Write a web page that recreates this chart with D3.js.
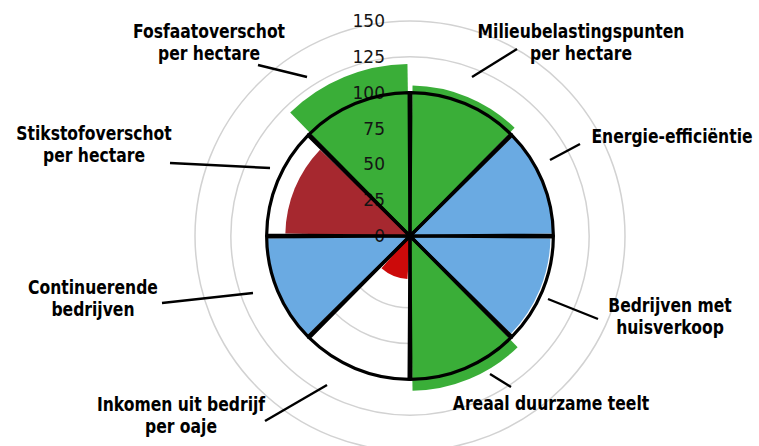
<!DOCTYPE html>
<html>
<head>
<meta charset="utf-8">
<script src="https://cdn.jsdelivr.net/npm/d3@7"></script>
<style>
  html, body { margin: 0; padding: 0; background: #ffffff; }
  svg { display: block; }
</style>
</head>
<body>
<svg id="chart" width="759" height="446"></svg>
<script>
// ---- data ----
const categories = [
  "Milieubelastingspunten per hectare",
  "Energie-efficiëntie",
  "Bedrijven met huisverkoop",
  "Areaal duurzame teelt",
  "Inkomen uit bedrijf per oaje",
  "Continuerende bedrijven",
  "Stikstofoverschot per hectare",
  "Fosfaatoverschot per hectare"
];
const labelLines = [
  ["Milieubelastingspunten", "per hectare"],
  ["Energie-efficiëntie"],
  ["Bedrijven met", "huisverkoop"],
  ["Areaal duurzame teelt"],
  ["Inkomen uit bedrijf", "per oaje"],
  ["Continuerende", "bedrijven"],
  ["Stikstofoverschot", "per hectare"],
  ["Fosfaatoverschot", "per hectare"]
];
const values = [105, 100, 98, 108, 30, 100, 87, 120];
const referenceValue = 100;
const colorGroup = ["green", "blue", "blue", "green", "red", "blue", "darkred", "green"];
const radialTicks = [0, 25, 50, 75, 100, 125, 150];

// ---- style / layout ----
const palette = { green: "#3aae38", blue: "#6aaae2", red: "#cc0a0a", darkred: "#a6282f" };
const cx = 410, cy = 236;
const r = d3.scaleLinear().domain([0, 150]).range([0, 215]);
const angle = d3.scaleBand().domain(d3.range(categories.length)).range([0, 2 * Math.PI]);

// label anchor (center x, first baseline) and leader line ends
const labelLayout = [
  { x: 581, y: 38,  line: [[472, 77], [517, 49]] },
  { x: 672, y: 143, line: [[550, 160], [580, 144]] },
  { x: 670, y: 312, line: [[548, 299], [598, 319]] },
  { x: 551, y: 410, line: [[490, 374], [511, 387]] },
  { x: 181, y: 411, line: [[327, 385], [265, 421]] },
  { x: 93,  y: 294, line: [[253, 293], [162, 303]] },
  { x: 94,  y: 140, line: [[270, 168], [170, 163]] },
  { x: 209, y: 38,  line: [[307, 77], [258, 65]] }
];
const lineGap = 22;

const svg = d3.select("#chart");
const g = svg.append("g").attr("transform", `translate(${cx},${cy})`);

// grid circles
g.append("g").selectAll("circle")
  .data(radialTicks.filter(d => d > 0))
  .join("circle")
  .attr("r", d => r(d))
  .attr("fill", "none")
  .attr("stroke", "#d2d2d2")
  .attr("stroke-width", 1.5);

// value wedges
const fillArc = d3.arc()
  .innerRadius(0)
  .outerRadius(d => r(d.v))
  .startAngle(d => angle(d.i))
  .endAngle(d => angle(d.i) + angle.bandwidth())
  .padAngle(0.034)
  .padRadius(150);

const wedgeData = values.map((v, i) => ({ v, i }));
g.append("g").selectAll("path")
  .data(wedgeData)
  .join("path")
  .attr("d", fillArc)
  .attr("fill", d => palette[colorGroup[d.i]]);

// radial tick labels
g.append("g").selectAll("text")
  .data(radialTicks)
  .join("text")
  .attr("x", -25)
  .attr("y", d => -r(d))
  .attr("text-anchor", "end")
  .attr("dominant-baseline", "central")
  .attr("font-family", "DejaVu Sans, Verdana, sans-serif")
  .attr("font-size", 17)
  .attr("fill", "#141414")
  .text(d => d);

// reference (100) outlines
const refArc = d3.arc()
  .innerRadius(0)
  .outerRadius(r(referenceValue))
  .startAngle(d => angle(d.i))
  .endAngle(d => angle(d.i) + angle.bandwidth())
  .padAngle(0.012)
  .padRadius(150);

g.append("g").selectAll("path")
  .data(wedgeData)
  .join("path")
  .attr("d", refArc)
  .attr("fill", "none")
  .attr("stroke", "#000")
  .attr("stroke-width", 3.2)
  .attr("stroke-linejoin", "miter");

// category labels with leader lines
const ann = svg.append("g");
labelLines.forEach((lines, i) => {
  const L = labelLayout[i];
  ann.append("line")
    .attr("x1", L.line[0][0]).attr("y1", L.line[0][1])
    .attr("x2", L.line[1][0]).attr("y2", L.line[1][1])
    .attr("stroke", "#000").attr("stroke-width", 2.4);
  const tg = ann.append("g").attr("transform", `translate(${L.x},${L.y}) scale(0.8,1)`);
  const t = tg.append("text")
    .attr("text-anchor", "middle")
    .attr("font-family", "DejaVu Sans, Verdana, sans-serif")
    .attr("font-weight", "bold")
    .attr("font-size", 19.5)
    .attr("fill", "#000");
  lines.forEach((s, k) => {
    t.append("tspan").attr("x", 0).attr("y", k * lineGap).text(s);
  });
});
</script>
</body>
</html>
